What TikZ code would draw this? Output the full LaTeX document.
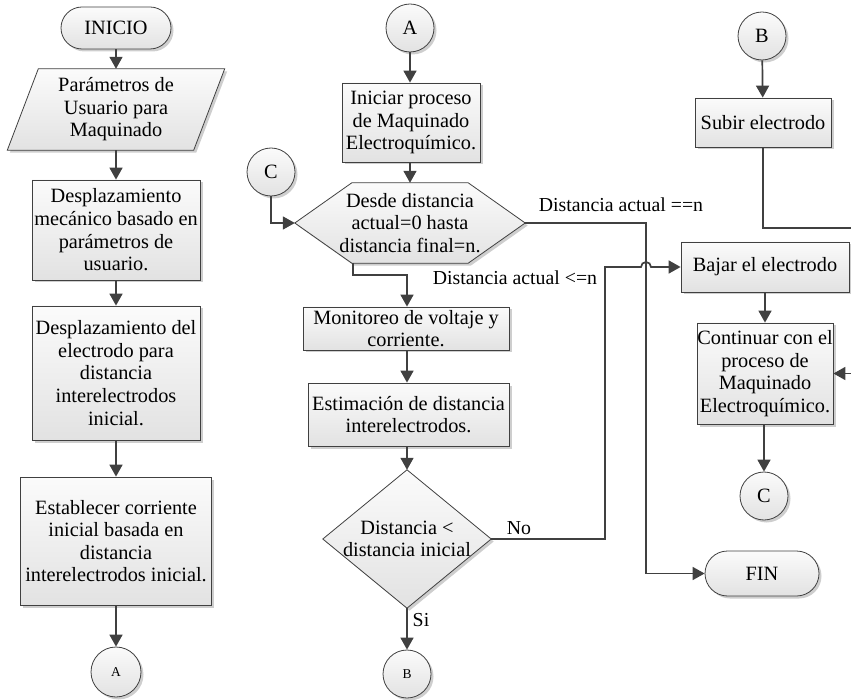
\documentclass[tikz,border=0pt]{standalone}
\usepackage{fontspec}
\setmainfont{Liberation Serif}
\usetikzlibrary{arrows.meta,shapes.misc,shadows,backgrounds,calc}
\definecolor{ln}{HTML}{404040}
\definecolor{ftop}{HTML}{FBFBFB}
\definecolor{fbot}{HTML}{E2E2E2}
\begin{document}
\begin{tikzpicture}[x=1pt,y=-1pt,
  txt/.style={font=\fontsize{20.3}{22.6}\selectfont, align=center, inner sep=0pt, text=black},
  skin/.style={draw=ln, line width=0.8pt, top color=ftop, bottom color=fbot,
    drop shadow={shadow xshift=2.5pt,shadow yshift=-2.5pt,fill=black!35,opacity=0.55}},
  procbox/.style={txt, skin, rectangle},
  term/.style={txt, skin, rounded rectangle},
  conn/.style={txt, skin, circle, minimum size=48pt},
  smallconn/.style={conn, font=\fontsize{13.5}{15}\selectfont},
  holder/.style={txt, rectangle, draw=none},
  flow/.style={draw=ln, line width=1.7pt, -{Triangle[length=12pt,width=13pt]}},
  lbl/.style={font=\fontsize{19.8}{22}\selectfont, inner sep=0pt, text=black}
]
\useasboundingbox (0,0) rectangle (851,700);

% ---------- left column ----------
\node[term, minimum width=110pt, minimum height=42pt] (inicio) at (116,28) {INICIO};
\node[holder, minimum width=217pt, minimum height=81pt] (params) at (116,109.5)
  {Parámetros de\\Usuario para\\Maquinado};
\node[procbox, minimum width=168pt, minimum height=100pt] (d1) at (116,230)
  {Desplazamiento\\mecánico basado en\\parámetros de\\usuario.};
\node[procbox, minimum width=168pt, minimum height=134pt] (d2) at (116,373)
  {Desplazamiento del\\electrodo para\\distancia\\interelectrodos\\inicial.};
\node[procbox, minimum width=191pt, minimum height=128pt] (d3) at (116,541)
  {Establecer corriente\\inicial basada en\\distancia\\interelectrodos inicial.};
\node[smallconn, minimum size=50pt] (ca1) at (116,672) {A};

% ---------- middle column ----------
\node[conn] (ca2) at (410,28) {A};
\node[procbox, minimum width=138pt, minimum height=79pt] (ini) at (411,122.5)
  {Iniciar proceso\\de Maquinado\\Electroquímico.};
\node[holder, minimum width=230pt, minimum height=80pt] (hex) at (410,223)
  {Desde distancia\\actual=0 hasta\\distancia final=n.};
\node[conn] (cc1) at (271,172) {C};
\node[procbox, minimum width=206pt, minimum height=43pt] (mon) at (406,328.5)
  {Monitoreo de voltaje y\\corriente.};
\node[procbox, minimum width=201pt, minimum height=63pt] (est) at (408.5,414.5)
  {Estimación de distancia\\interelectrodos.};
\node[holder, minimum width=168pt, minimum height=138pt] (dia) at (407,539)
  {Distancia <\\distancia inicial};
\node[smallconn] (cb1) at (407,674) {B};

% ---------- right column ----------
\node[conn] (cb2) at (762,36) {B};
\node[procbox, minimum width=136pt, minimum height=49pt] (sub) at (763,122.5) {Subir electrodo};
\node[procbox, minimum width=168pt, minimum height=50pt] (baj) at (765,267) {Bajar el electrodo};
\node[procbox, minimum width=136pt, minimum height=101pt] (con) at (765,373.5)
  {Continuar con el\\proceso de\\Maquinado\\Electroquímico.};
\node[conn] (cc2) at (764,496) {C};
\node[term, minimum width=114pt, minimum height=45pt] (fin) at (762,573.5) {FIN};

% ---------- drawn shapes behind holders ----------
\begin{scope}[on background layer]
  \path[skin] ($(params.south west)$) -- ($(params.north west)+(31,0)$) -- (params.north east)
     -- ($(params.south east)+(-31,0)$) -- cycle;
  \path[skin] (hex.west) -- ($(hex.north west)+(57,0)$) -- ($(hex.north east)+(-57,0)$)
     -- (hex.east) -- ($(hex.south east)+(-57,0)$) -- ($(hex.south west)+(57,0)$) -- cycle;
  \path[skin] (dia.north) -- (dia.east) -- (dia.south) -- (dia.west) -- cycle;
\end{scope}

% ---------- connectors ----------
\draw[flow] (inicio.south) -- (params.north);
\draw[flow] (params.south) -- (d1.north);
\draw[flow] (d1.south) -- (d2.north);
\draw[flow] (d2.south) -- (d3.north);
\draw[flow] (d3.south) -- (ca1.north);

\draw[flow] (ca2) -- (ini.north -| ca2);
\draw[flow] (ini.south -| hex.north) -- (hex.north);
\draw[flow] (cc1.south) |- (hex.west);
\coordinate (hexbl) at ($(hex.south west)+(58,0)$);
\draw[flow] (hexbl) -- ++(0,12) -| (mon.north -| dia.north);
\draw[flow] (mon.south -| dia.north) -- (est.north -| dia.north);
\draw[flow] (est.south -| dia.north) -- (dia.north);
\draw[flow] (dia.south) -- (cb1.north);

\coordinate (eqx) at (646,223);
\draw[flow] (hex.east) -- (eqx) |- (fin.west);
\coordinate (nox) at (605,539);
\draw[flow] (dia.east) -- (nox) -- (605,267) -- (641,267)
   arc[start angle=180,end angle=360,radius=5] -- (baj.west);

\draw[flow] (cb2) -- (sub);
\coordinate (offr) at (860,228);
\draw[flow] (sub.south) -- (sub.south |- offr) -- (offr) |- (con.east);
\draw[flow] (baj.south -| con.north) -- (con.north);
\draw[flow] (con.south -| cc2.north) -- (cc2.north);

% ---------- labels ----------
\node[lbl] (leq) at (621,205) {Distancia actual ==n};
\node[lbl] (lle) at (515,278) {Distancia actual <=n};
\node[lbl] (lno) at (519,528) {No};
\node[lbl] (lsi) at (421,620) {Si};
\end{tikzpicture}
\end{document}
